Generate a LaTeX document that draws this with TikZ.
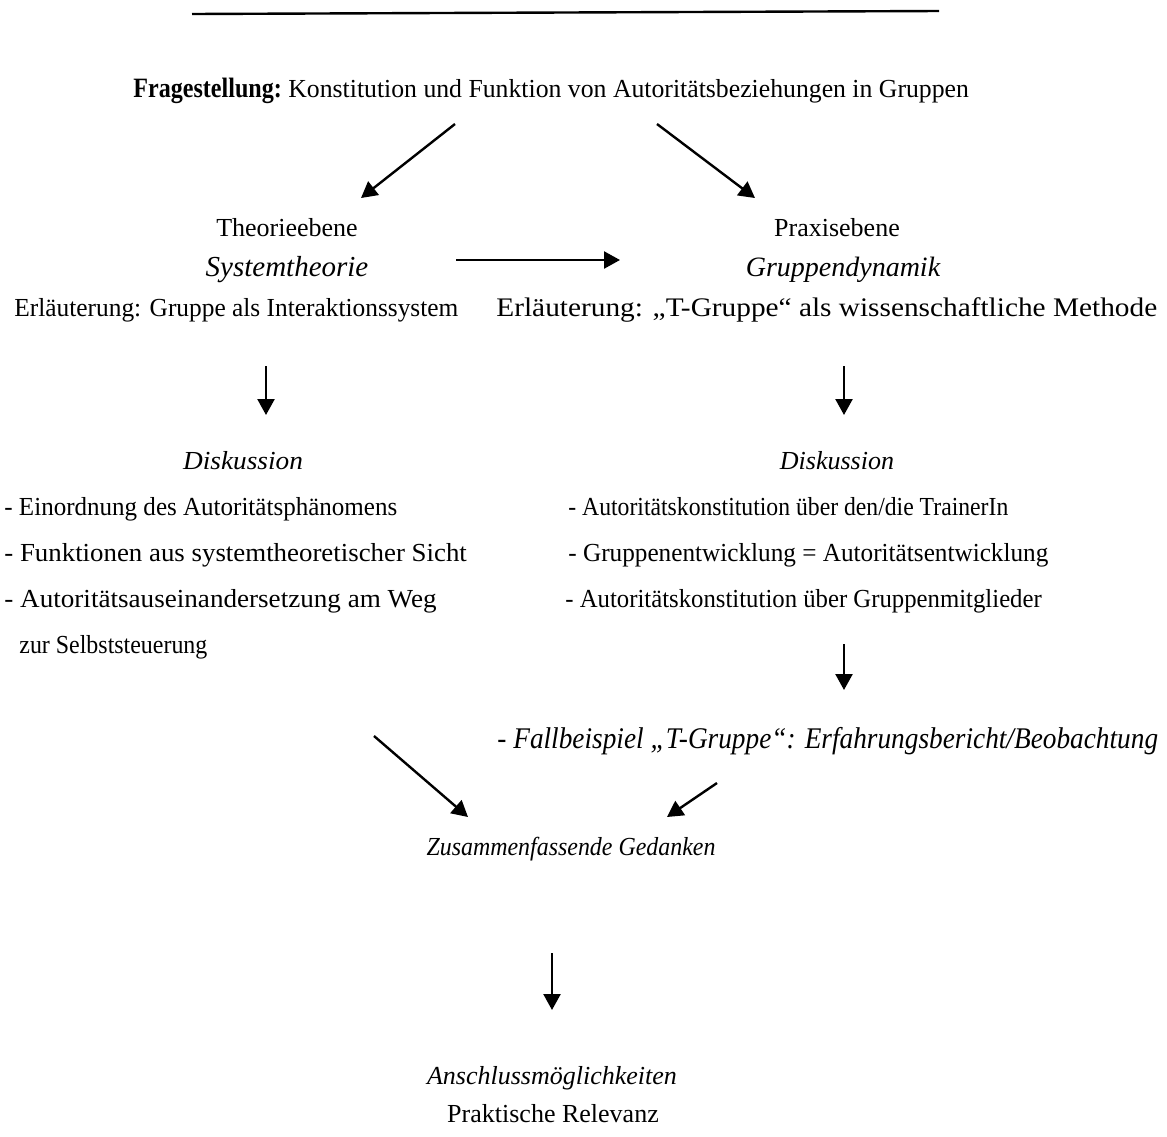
\documentclass[tikz,border=0pt]{standalone}
\usepackage{fontspec}
\setmainfont{Liberation Serif}
\usepackage{graphicx}
\usepackage{tikz}
\usetikzlibrary{arrows.meta, positioning}
\tikzstyle{arrow} = [line width=1.2pt,-{Triangle[width=8.5pt,length=8pt]}]
\tikzstyle{txt} = [inner sep=0pt, anchor=base, font=\fontsize{13}{15}\selectfont]
\tikzstyle{txtl} = [txt, anchor=base west]
\tikzstyle{ital} = [font=\fontsize{13}{15}\selectfont\itshape]
\newcommand{\sx}[2]{\scalebox{#1}[1]{#2}}

\begin{document}
\begin{tikzpicture}[x=0.5pt, y=-0.5pt]
    \useasboundingbox (0,0) rectangle (1167,1136);
    % top rule
    \draw[line width=1.2pt] (192,14) -- (939,11);

    \node[txtl] (frage) at (133,97) {\sx{0.86}{\fontsize{14}{16}\selectfont\bfseries Fragestellung:} \sx{0.99}{Konstitution und Funktion von Autoritätsbeziehungen in Gruppen}};

    % left column
    \node[txt] (theo) at (287,236) {Theorieebene};
    \node[txt, font=\fontsize{14.5}{16}\selectfont\itshape] (systh) at (287,276) {Systemtheorie};
    \node[txtl] (erl1) at (14,316) {\sx{0.976}{Erläuterung: Gruppe als Interaktionssystem}};
    \node[txt, ital] (disk1) at (243,469) {\sx{1.05}{Diskussion}};
    \node[txtl] (l1) at (4,515) {\sx{0.963}{- Einordnung des Autoritätsphänomens}};
    \node[txtl] (l2) at (4,561) {\sx{1.033}{- Funktionen aus systemtheoretischer Sicht}};
    \node[txtl] (l3) at (4,607) {\sx{1.043}{- Autoritätsauseinandersetzung am Weg}};
    \node[txtl] (l4) at (19,653) {\sx{0.92}{zur Selbststeuerung}};

    % right column
    \node[txt] (prax) at (837,236) {Praxisebene};
    \node[txt, font=\fontsize{14}{16}\selectfont\itshape] (grdyn) at (843,276) {Gruppendynamik};
    \node[txtl, font=\fontsize{13.4}{16}\selectfont] (erl2) at (496,316) {\sx{1.094}{Erläuterung: „T-Gruppe“ als wissenschaftliche Methode}};
    \node[txt, ital] (disk2) at (837,469) {Diskussion};
    \node[txtl] (r1) at (568,515) {\sx{0.911}{- Autoritätskonstitution über den/die TrainerIn}};
    \node[txtl] (r2) at (568,561) {\sx{0.97}{- Gruppenentwicklung = Autoritätsentwicklung}};
    \node[txtl] (r3) at (565,607) {\sx{0.952}{- Autoritätskonstitution über Gruppenmitglieder}};
    \node[txtl, font=\fontsize{15}{17}\selectfont\itshape] (fall) at (497,748) {\sx{0.91}{- Fallbeispiel „T-Gruppe“: Erfahrungsbericht/Beobachtung}};

    % bottom
    \node[txt, ital] (zus) at (571,855) {\sx{0.92}{Zusammenfassende Gedanken}};
    \node[txt, ital] (ansch) at (552,1084) {Anschlussmöglichkeiten};
    \node[txt] (rel) at (553,1122) {Praktische Relevanz};

    % arrow ends
    \coordinate (a1) at (455,124); \coordinate (b1) at (361,198);
    \coordinate (a2) at (657,124); \coordinate (b2) at (755,198);
    \coordinate (a3) at (456,260); \coordinate (b3) at (620,260);
    \coordinate (a4) at (266,366); \coordinate (b4) at (266,415);
    \coordinate (a5) at (844,366); \coordinate (b5) at (844,415);
    \coordinate (a6) at (844,644); \coordinate (b6) at (844,690);
    \coordinate (a7) at (374,736); \coordinate (b7) at (468,817);
    \coordinate (a8) at (717,783); \coordinate (b8) at (667,817);
    \coordinate (a9) at (552,953); \coordinate (b9) at (552,1010);

    \foreach \s/\e in {a1/b1, a2/b2, a3/b3, a4/b4, a5/b5, a6/b6, a7/b7, a8/b8, a9/b9}
        \draw[arrow] (\s) -- (\e);
\end{tikzpicture}
\end{document}
